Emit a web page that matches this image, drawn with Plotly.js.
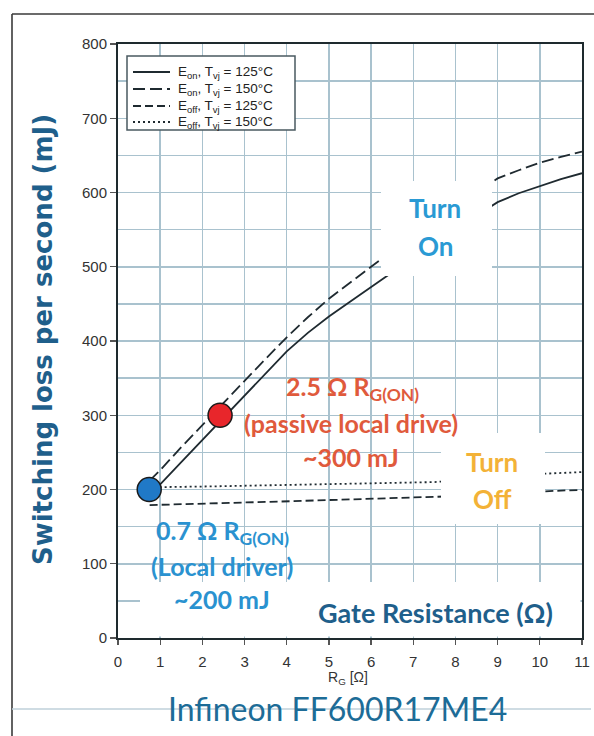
<!DOCTYPE html>
<html>
<head>
<meta charset="utf-8">
<script src="https://cdn.plot.ly/plotly-3.0.1.min.js"></script>
<style>
html,body{margin:0;padding:0;background:#fff;}
#chart{width:594px;height:736px;}
</style>
</head>
<body>
<div id="chart"></div>
<script>
// ---- data ----
const rgX = [0.75, 1, 1.5, 2, 2.5, 3, 3.5, 4, 4.5, 5, 5.5, 6, 6.5, 7, 7.5, 8, 8.5, 9, 9.5, 10, 10.5, 11];
const eOn125  = [193, 207, 237, 267, 297, 327, 357, 386, 411, 433, 453, 473, 493, 513, 532, 551, 569, 587, 599, 609, 618, 626];
const eOn150  = [212, 226, 257, 287, 317, 346, 376, 405, 432, 457, 479, 500, 521, 541, 561, 580, 599, 619, 630, 640, 648, 655];
const eOff125 = [179, 179.5, 180.2, 181, 181.8, 182.5, 183.2, 184, 184.8, 185.5, 186.2, 187, 187.8, 188.5, 189.2, 191, 193, 194.5, 196, 197.5, 198.5, 199.5];
const eOff150 = [203, 203, 203.5, 204, 204.5, 205, 205.5, 206, 206.5, 207, 207.5, 208, 208.5, 209, 210, 212, 214, 216, 218.5, 221, 222.5, 223.5];
const seriesNames = ['E<sub>on</sub>, T<sub>vj</sub> = 125°C', 'E<sub>on</sub>, T<sub>vj</sub> = 150°C',
                     'E<sub>off</sub>, T<sub>vj</sub> = 125°C', 'E<sub>off</sub>, T<sub>vj</sub> = 150°C'];
const seriesDash = ['solid', '12px,5px', '8px,4px', '2px,3px'];
const dotX = [0.74, 2.42];
const dotY = [200, 300];
const xTicks = [0,1,2,3,4,5,6,7,8,9,10,11];
const yTicks = [0,100,200,300,400,500,600,700,800];

// ---- geometry helpers (pixel -> paper) ----
const L = 118, R = 582, T = 44, B = 638;
const px = p => (p - L) / (R - L);
const py = p => (B - p) / (B - T);

const lineCol = '#1f2a30';
function curve(y, i){
  return {x: rgX, y: y, name: seriesNames[i], type: 'scatter', mode: 'lines', showlegend: false,
          line: {color: lineCol, width: 1.8, dash: seriesDash[i]}, hoverinfo: 'skip'};
}
const traces = [
  curve(eOn125, 0), curve(eOn150, 1), curve(eOff125, 2), curve(eOff150, 3),
  {x: [dotX[0]], y: [dotY[0]], type: 'scatter', mode: 'markers', showlegend: false,
   marker: {size: 24, color: '#2079c7', line: {color: '#1a1a1a', width: 1.5}}},
  {x: [dotX[1]], y: [dotY[1]], type: 'scatter', mode: 'markers', showlegend: false,
   marker: {size: 24, color: '#e8262b', line: {color: '#1a1a1a', width: 1.5}}}
];

const calibri = 'Lato, "Open Sans", sans-serif';
const arial = '"Liberation Sans", Arial, sans-serif';
const blue = '#2a92d0', red = '#e05a3c', dark = '#1f5f8b', orange = '#f3b237', teal = '#1d6c97';
function ann(text, x, y, color, size, family, weight, extra){
  return Object.assign({text: text, x: px(x), y: py(y), xref: 'paper', yref: 'paper',
    xanchor: 'center', yanchor: 'middle', showarrow: false,
    font: {family: family || calibri, size: size, color: color, weight: weight || 700}}, extra || {});
}

// legend geometry (drawn by hand so its compact row spacing matches)
const legRows = [72, 89, 106, 122];
const annotations = [
  ann('Turn', 435, 208, '#2a9ad4', 26),
  ann('On', 435, 246, '#2a9ad4', 26),
  ann('Turn', 492, 462, orange, 26),
  ann('Off', 492, 499, orange, 26),
  ann('2.5 Ω R<sub>G(ON)</sub>', 352, 388, red, 25),
  ann('(passive local drive)', 351, 423, red, 25),
  ann('~300 mJ', 351, 457, red, 25),
  ann('0.7 Ω R<sub>G(ON)</sub>', 222, 532, blue, 25),
  ann('(Local driver)', 222, 566, blue, 25),
  ann('~200 mJ', 222, 599, blue, 25),
  ann('Gate Resistance (Ω)', 435, 612, dark, 27),
  ann('Switching loss per second (mJ)', 43, 340, dark, 26, '"DejaVu Sans", sans-serif', 700, {textangle: -90}),
  ann('R<sub>G</sub> [Ω]', 348, 678, '#333333', 14, arial, 400),
  ann('Infineon FF600R17ME4', 337, 708, teal, 32, calibri, 400)
];
seriesNames.forEach((n, i) => {
  annotations.push(ann(n, 176, legRows[i] + 0.5, '#222222', 13.5, arial, 400, {xanchor: 'left'}));
});

function rect(x0, x1, y0, y1, extra){
  return Object.assign({type: 'rect', xref: 'paper', yref: 'paper', x0: px(x0), x1: px(x1), y0: py(y1), y1: py(y0),
          fillcolor: '#ffffff', line: {width: 0}, layer: 'above'}, extra || {});
}
const shapes = [
  {type: 'line', xref: 'paper', yref: 'paper', x0: px(12), x1: px(12), y0: py(14), y1: py(745), line: {color: '#3a3a3a', width: 1.6}},
  {type: 'line', xref: 'paper', yref: 'paper', x0: px(12), x1: px(600), y0: py(14), y1: py(14), line: {color: '#3a3a3a', width: 1.6}},
  {type: 'line', xref: 'paper', yref: 'paper', x0: px(12), x1: px(591), y0: py(709), y1: py(709), line: {color: '#bfd0da', width: 1.5}},
  rect(381, 492, 181, 276),
  rect(441, 545, 433, 524),
  rect(140, 580.5, 582, 636.5),
  rect(127, 295, 56, 130, {line: {color: '#4a5a60', width: 1.5}})
];
seriesDash.forEach((d, i) => {
  shapes.push({type: 'line', xref: 'paper', yref: 'paper', x0: px(133), x1: px(170),
               y0: py(legRows[i]), y1: py(legRows[i]), layer: 'above',
               line: {color: lineCol, width: 1.8, dash: d}});
});

const gridCol = '#a9c2ce';
const layout = {
  width: 594, height: 736,
  margin: {l: L, r: 594 - R, t: T, b: 736 - B, pad: 0},
  paper_bgcolor: '#ffffff', plot_bgcolor: '#ffffff',
  font: {family: arial, color: '#333'},
  showlegend: false,
  xaxis: {range: [0, 11], tickvals: xTicks, ticktext: xTicks.map(String),
          showgrid: true, gridcolor: gridCol, gridwidth: 1.5, zeroline: false,
          showline: true, mirror: true, linecolor: '#1e2a2e', linewidth: 2,
          ticks: 'outside', ticklen: 5, tickcolor: '#555', tickwidth: 1.2, ticklabelstandoff: 4,
          tickfont: {size: 15, color: '#333'}, fixedrange: true},
  yaxis: {range: [0, 800], tickvals: yTicks, ticktext: yTicks.map(String),
          showgrid: true, gridcolor: gridCol, gridwidth: 1.5, zeroline: false,
          minor: {dtick: 50, showgrid: true, gridcolor: gridCol, gridwidth: 1.5, ticks: ''},
          showline: true, mirror: true, linecolor: '#1e2a2e', linewidth: 2,
          ticks: 'outside', ticklen: 6, tickcolor: '#555', tickwidth: 1.2,
          tickfont: {size: 15, color: '#333'}, fixedrange: true},
  annotations: annotations,
  shapes: shapes
};

Plotly.newPlot('chart', traces, layout, {displayModeBar: false, staticPlot: true});
</script>
</body>
</html>
